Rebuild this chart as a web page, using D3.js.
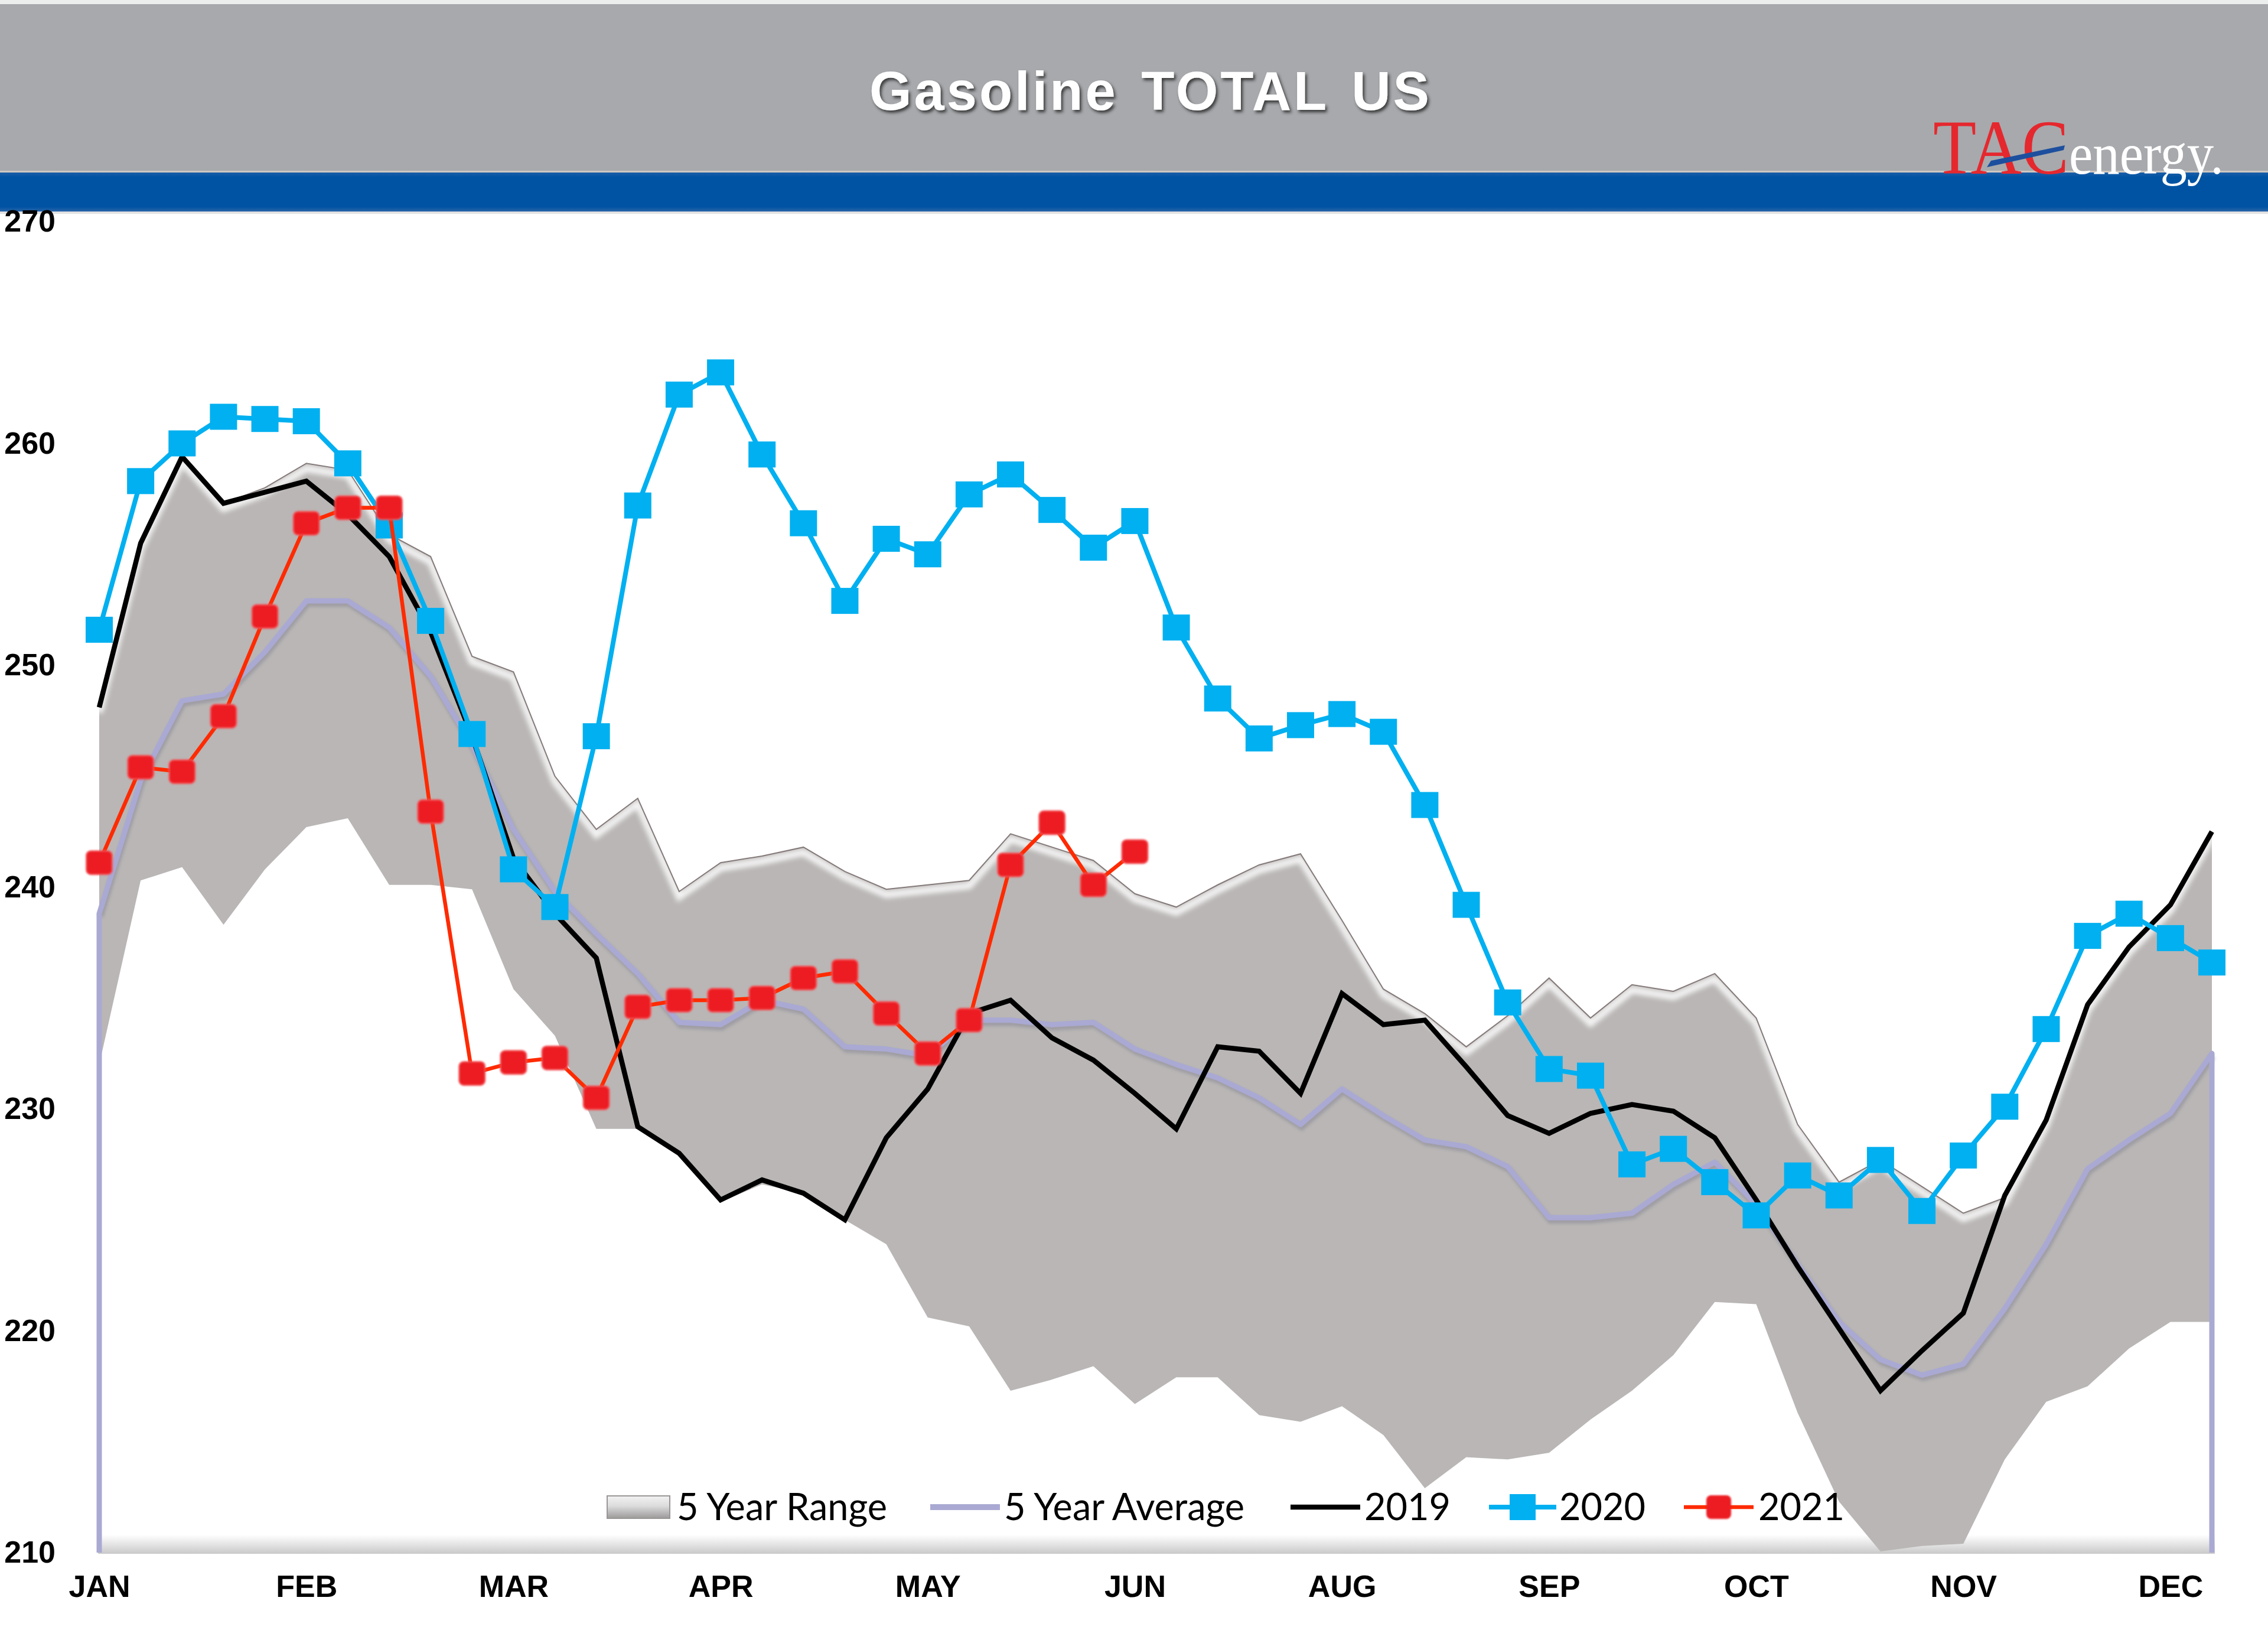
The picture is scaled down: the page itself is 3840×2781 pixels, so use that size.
<!DOCTYPE html>
<html><head><meta charset="utf-8">
<script src="https://cdn.jsdelivr.net/npm/d3@7/dist/d3.min.js"></script>
<style>html,body{margin:0;padding:0;background:#fff}svg{display:block}</style>
</head><body>
<svg id="c" width="3840" height="2781"></svg>
<script>
// ---------- DATA ----------
const weeks = [1,2,3,4,5,6,7,8,9,10,11,12,13,14,15,16,17,18,19,20,21,22,23,24,25,26,
               27,28,29,30,31,32,33,34,35,36,37,38,39,40,41,42,43,44,45,46,47,48,49,50,51,52];
const tickWeeks = [1,6,11,16,21,26,31,36,41,46,51];
const monthLabels = ["JAN","FEB","MAR","APR","MAY","JUN","AUG","SEP","OCT","NOV","DEC"];
const yTicks = [210,220,230,240,250,260,270];

const rangeMax = [248.1,255.5,259.4,257.3,258.0,259.1,258.8,255.9,254.9,250.4,249.7,245.0,242.6,244.0,239.8,241.1,241.4,241.8,240.7,239.9,240.1,240.3,242.4,241.8,241.2,239.7,
                  239.1,240.1,241.0,241.5,238.5,235.4,234.3,232.8,234.2,235.9,234.1,235.6,235.3,236.1,234.1,229.3,226.7,227.7,226.5,225.3,226.0,229.5,234.7,237.3,239.2,242.5];
const rangeMin = [232.0,240.3,240.9,238.3,240.8,242.7,243.1,240.1,240.1,239.9,235.4,233.3,229.1,229.1,227.9,225.8,226.6,226.2,225.0,223.9,220.6,220.2,217.3,217.8,218.4,216.7,
                  217.9,217.9,216.2,215.9,216.6,215.3,212.9,214.3,214.2,214.5,216.0,217.3,218.9,221.3,221.2,216.3,212.3,210.05,210.3,210.4,214.2,216.8,217.5,219.2,220.4,220.4];
const avg5 = [238.8,244.8,248.4,248.7,250.6,252.9,252.9,251.7,249.5,246.4,242.6,239.8,237.9,236.1,233.9,233.8,234.9,234.5,232.8,232.7,232.4,234.0,234.0,233.8,233.9,232.7,
              232.0,231.4,230.5,229.3,230.9,229.7,228.6,228.3,227.4,225.1,225.1,225.3,226.6,227.6,225.7,223.0,220.4,218.7,218.0,218.5,221.0,223.9,227.3,228.6,229.8,232.5];
const y2019 = [248.1,255.5,259.4,257.3,257.8,258.3,256.8,254.9,251.5,246.8,241.3,238.8,236.8,229.2,228.0,225.9,226.8,226.2,225.0,228.7,230.9,234.3,234.9,233.2,232.2,230.7,
               229.1,232.8,232.6,230.7,235.2,233.8,234.0,231.9,229.7,228.9,229.8,230.2,229.9,228.7,225.9,222.9,220.1,217.3,219.1,220.8,226.1,229.5,234.7,237.3,239.2,242.5];
const y2020 = [251.6,258.3,260.0,261.2,261.1,261.0,259.1,256.3,252.0,246.9,240.8,239.1,246.8,257.2,262.2,263.2,259.5,256.4,252.9,255.7,255.0,257.7,258.6,257.0,255.3,256.5,
               251.7,248.5,246.7,247.3,247.8,247.0,243.7,239.2,234.8,231.8,231.5,227.5,228.2,226.7,225.2,227.0,226.1,227.7,225.4,227.9,230.1,233.6,237.8,238.8,237.7,236.6];
const y2021 = [241.1,245.4,245.2,247.7,252.2,256.4,257.1,257.1,243.4,231.6,232.1,232.3,230.5,234.6,234.9,234.9,235.0,235.9,236.2,234.3,232.5,234.0,241.0,242.9,240.1,241.6];

const legendNames = ["5 Year Range","5 Year Average","2019","2020","2021"];

// ---------- SETUP ----------
const svg = d3.select("#c");
const W = 3840, H = 2781;
const x = d3.scalePoint().domain(weeks).range([168, 3745]);
const y = d3.scaleLinear().domain([210, 270]).range([2628, 375]);
const base = y(210);

const defs = svg.append("defs");
const fBlur = defs.append("filter").attr("id","blur4").attr("x","-10%").attr("y","-10%").attr("width","120%").attr("height","120%");
fBlur.append("feGaussianBlur").attr("stdDeviation",4);
const fSoft = defs.append("filter").attr("id","soft").attr("x","-30%").attr("y","-30%").attr("width","160%").attr("height","160%");
fSoft.append("feGaussianBlur").attr("stdDeviation",1.6);
const fSh = defs.append("filter").attr("id","tsh").attr("x","-10%").attr("y","-30%").attr("width","120%").attr("height","160%");
fSh.append("feDropShadow").attr("dx",3).attr("dy",4).attr("stdDeviation",2.5).attr("flood-color","#2a2a2a").attr("flood-opacity",0.85);
const fLine = defs.append("filter").attr("id","lsh").attr("x","-5%").attr("y","-5%").attr("width","110%").attr("height","110%");
fLine.append("feGaussianBlur").attr("stdDeviation",2.5);

const gBase = defs.append("linearGradient").attr("id","gbase").attr("x1",0).attr("y1",0).attr("x2",0).attr("y2",1);
gBase.append("stop").attr("offset","0").attr("stop-color","#ffffff");
gBase.append("stop").attr("offset","1").attr("stop-color","#c9c9c9");
const gSw = defs.append("linearGradient").attr("id","gsw").attr("x1",0).attr("y1",0).attr("x2",0).attr("y2",1);
gSw.append("stop").attr("offset","0").attr("stop-color","#f2f2f2");
gSw.append("stop").attr("offset","0.45").attr("stop-color","#dcdcdc");
gSw.append("stop").attr("offset","1").attr("stop-color","#9c9999");
const gBlue = defs.append("linearGradient").attr("id","gblue").attr("x1",0).attr("y1",0).attr("x2",0).attr("y2",1);
gBlue.append("stop").attr("offset","0").attr("stop-color","#1a5ea8");
gBlue.append("stop").attr("offset","0.12").attr("stop-color","#0053a3");
gBlue.append("stop").attr("offset","0.88").attr("stop-color","#0053a3");
gBlue.append("stop").attr("offset","1").attr("stop-color","#2a65a8");

svg.append("rect").attr("width",W).attr("height",H).attr("fill","#fff");

// ---------- HEADER ----------
svg.append("rect").attr("x",0).attr("y",0).attr("width",W).attr("height",7).attr("fill","#eceded");
svg.append("rect").attr("x",0).attr("y",7).attr("width",W).attr("height",284).attr("fill","#a7a9ac");
svg.append("rect").attr("x",0).attr("y",289).attr("width",W).attr("height",3).attr("fill","#cfc8c2");
svg.append("rect").attr("x",0).attr("y",292).attr("width",W).attr("height",66).attr("fill","url(#gblue)");
svg.append("rect").attr("x",0).attr("y",358).attr("width",W).attr("height",4).attr("fill","#e2e2e2");

svg.append("text").attr("x",1948).attr("y",186).attr("text-anchor","middle")
  .attr("font-family","'Liberation Sans', Arial, sans-serif").attr("font-weight","bold")
  .attr("font-size",92).attr("letter-spacing",4).attr("word-spacing",10).attr("fill","#ffffff").attr("filter","url(#tsh)")
  .text("Gasoline TOTAL US");

// logo
const logo = svg.append("g");
logo.append("text").attr("x",3273).attr("y",294).attr("font-family","'Liberation Serif','DejaVu Serif',serif")
  .attr("font-size",132).attr("fill","#e5282e").attr("textLength",230).attr("lengthAdjust","spacingAndGlyphs").text("TAC");
logo.append("path").attr("d","M3364,283 L3371,272 L3496,246 L3494,254 Z").attr("fill","#1d4f9e");
logo.append("text").attr("x",3503).attr("y",294).attr("font-family","'Liberation Serif','DejaVu Serif',serif")
  .attr("font-size",100).attr("fill","#ffffff").attr("textLength",262).attr("lengthAdjust","spacingAndGlyphs").text("energy.");

// ---------- PLOT ----------
const plot = svg.append("g");

plot.append("rect").attr("x",166).attr("y",base-30).attr("width",3750-166).attr("height",32).attr("fill","url(#gbase)");

// 5 year range
const areaRange = d3.area().x((d,i)=>x(weeks[i])).y0((d,i)=>y(rangeMin[i])).y1(d=>y(d)).curve(d3.curveLinear);
const rangePath = areaRange(rangeMax);
defs.append("clipPath").attr("id","rclip").append("path").attr("d",rangePath);
plot.append("path").attr("d",rangePath).attr("fill","#b9b6b5");
const lineMax = d3.line().x((d,i)=>x(weeks[i])).y(d=>y(d));
plot.append("g").attr("clip-path","url(#rclip)")
  .append("path").attr("d",lineMax(rangeMax)).attr("transform","translate(0,9)")
  .attr("fill","none").attr("stroke","#ffffff").attr("stroke-width",12).attr("opacity",0.85).attr("filter","url(#blur4)");
plot.append("path").attr("d",lineMax(rangeMax)).attr("fill","none").attr("stroke","#857a7a").attr("stroke-width",2);

// 5 year average (outlined area, no fill)
const avgLine = d3.line().x(d=>d[0]).y(d=>d[1]);
const avgPts = [[x(weeks[0]),base]].concat(avg5.map((v,i)=>[x(weeks[i]),y(v)])).concat([[x(weeks[51]),base]]);
plot.append("path").attr("d",avgLine(avgPts.slice(1,-1))).attr("transform","translate(2,5)")
  .attr("fill","none").attr("stroke","#6f6f85").attr("stroke-width",10).attr("opacity",0.35).attr("filter","url(#lsh)");
plot.append("path").attr("d",avgLine(avgPts)).attr("fill","none").attr("stroke","#a9a9d3")
  .attr("stroke-width",9).attr("stroke-linejoin","round");

// 2019
const ln = d3.line().x((d,i)=>x(weeks[i])).y(d=>y(d));
plot.append("path").attr("d",ln(y2019)).attr("fill","none").attr("stroke","#000").attr("stroke-width",8.5).attr("stroke-linejoin","miter");

// 2020
plot.append("path").attr("d",ln(y2020)).attr("fill","none").attr("stroke","#00b0f0").attr("stroke-width",8);
plot.append("g").selectAll("rect").data(y2020).join("rect")
  .attr("x",(d,i)=>x(weeks[i])-23).attr("y",d=>y(d)-22).attr("width",46).attr("height",44).attr("fill","#00b0f0");

// 2021
plot.append("path").attr("d",ln(y2021)).attr("fill","none").attr("stroke","#ff2a00").attr("stroke-width",6.5);
plot.append("g").attr("filter","url(#soft)").selectAll("rect").data(y2021).join("rect")
  .attr("x",(d,i)=>x(weeks[i])-22).attr("y",d=>y(d)-20).attr("width",44).attr("height",40).attr("rx",8)
  .attr("fill","#ec1c24").attr("stroke","#f5575c").attr("stroke-width",2);

// ---------- AXES ----------
const yAxis = svg.append("g").attr("transform","translate(94,0)")
  .call(d3.axisLeft(y).tickValues(yTicks).tickSize(0).tickPadding(0).tickFormat(d3.format("d")));
yAxis.select(".domain").remove();
yAxis.selectAll("text").attr("font-family","'Liberation Sans', Arial, sans-serif").attr("font-weight","bold")
  .attr("font-size",52).attr("fill","#000");

const xAxis = svg.append("g").attr("transform",`translate(0,${base})`)
  .call(d3.axisBottom(x).tickValues(tickWeeks).tickSize(0).tickPadding(38)
    .tickFormat(w => monthLabels[tickWeeks.indexOf(w)]));
xAxis.select(".domain").remove();
xAxis.selectAll("text").attr("font-family","'Liberation Sans', Arial, sans-serif").attr("font-weight","bold")
  .attr("font-size",52).attr("fill","#000");

// ---------- LEGEND ----------
const leg = svg.append("g");
const ly = 2551;
const legX = [1028, 1575, 2185, 2521, 2851];
const legTextX = [1146, 1700, 2310, 2640, 2977];
leg.append("rect").attr("x",legX[0]).attr("y",ly-19).attr("width",106).attr("height",38).attr("fill","url(#gsw)").attr("stroke","#9a9696").attr("stroke-width",2);
leg.append("line").attr("x1",legX[1]).attr("x2",legX[1]+118).attr("y1",ly).attr("y2",ly).attr("stroke","#a9a9d3").attr("stroke-width",10);
leg.append("line").attr("x1",legX[2]).attr("x2",legX[2]+118).attr("y1",ly).attr("y2",ly).attr("stroke","#000").attr("stroke-width",8.5);
leg.append("line").attr("x1",legX[3]).attr("x2",legX[3]+114).attr("y1",ly).attr("y2",ly).attr("stroke","#00b0f0").attr("stroke-width",8);
leg.append("rect").attr("x",legX[3]+57-22).attr("y",ly-22).attr("width",44).attr("height",44).attr("fill","#00b0f0");
leg.append("line").attr("x1",legX[4]).attr("x2",legX[4]+118).attr("y1",ly).attr("y2",ly).attr("stroke","#ff2a00").attr("stroke-width",6.5);
leg.append("rect").attr("x",legX[4]+59-21).attr("y",ly-20).attr("width",42).attr("height",40).attr("rx",8).attr("fill","#ec1c24").attr("filter","url(#soft)");
leg.selectAll("text.lt").data(legendNames).join("text").attr("class","lt")
  .attr("x",(d,i)=>legTextX[i]).attr("y",ly+22)
  .attr("font-family","Lato, 'Open Sans', sans-serif").attr("font-size",63).attr("fill","#000")
  .text(d=>d);
</script>
</body></html>
